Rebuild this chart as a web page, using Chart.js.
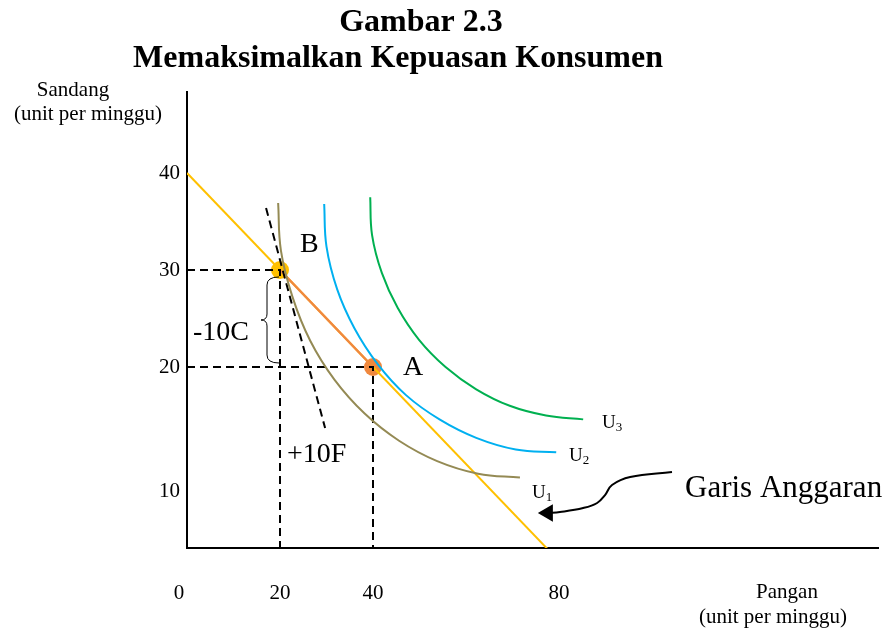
<!DOCTYPE html>
<html>
<head>
<meta charset="utf-8">
<script src="https://cdn.jsdelivr.net/npm/chart.js@4.4.1/dist/chart.umd.min.js"></script>
<style>
html, body { margin: 0; padding: 0; background: #fff; }
#wrap { width: 891px; height: 630px; }
</style>
</head>
<body>
<div id="wrap"><canvas id="chart" width="891" height="630"></canvas></div>
<script>
// --- DATA (Pangan on x, Sandang on y) ---
const xTicks = [0, 20, 40, 80];
const yTicks = [10, 20, 30, 40];

const budgetX = [0, 80];
const budgetY = [40, 0];

const pointNames = ['B', 'A'];
const pointX = [20, 40];
const pointY = [30, 20];

const tangentX = [17.0, 29.7];
const tangentY = [36.4, 13.7];

const u1X = [19.6, 20.2, 22.7, 26.5, 31.7, 38.2, 45.6, 53.8, 62.6, 71.6];
const u1Y = [36.9, 32.0, 27.2, 22.7, 18.7, 15.2, 12.4, 10.3, 9.0, 8.6];

const u2X = [29.5, 30.0, 32.3, 36.0, 41.0, 47.1, 54.3, 62.2, 70.7, 79.4];
const u2Y = [36.8, 32.4, 28.0, 24.0, 20.3, 17.1, 14.6, 12.7, 11.5, 11.2];

const u3X = [39.4, 39.8, 41.9, 45.3, 49.9, 55.6, 62.2, 69.4, 77.2, 85.2];
const u3Y = [37.5, 33.6, 29.7, 26.1, 22.8, 20.0, 17.7, 16.0, 15.0, 14.6];

const arrowX = [104.3, 95.3, 91.4, 89.9, 88.2, 85.2, 80.2, 77.6];
const arrowY = [9.18, 8.66, 7.84, 6.80, 5.98, 5.46, 5.05, 4.95];

// --- COLORS / FONTS ---
const SERIF = "'Liberation Serif', 'Times New Roman', serif";
const YELLOW = '#FFC000';
const ORANGE = '#F0883E';
const U1_COLOR = '#948A54';
const U2_COLOR = '#00B0F0';
const U3_COLOR = '#00B050';

function pts(xs, ys) { return xs.map((x, i) => ({ x, y: ys[i] })); }

function lineSet(xs, ys, color, extra) {
    return Object.assign({
        data: pts(xs, ys),
        showLine: true,
        borderColor: color,
        backgroundColor: color,
        borderWidth: 2,
        pointRadius: 0,
        tension: 0
    }, extra || {});
}

// --- TEXT / DECORATION PLUGIN ---
const decorations = {
    id: 'decorations',
    afterDraw(chart, args, o) {
        const ctx = chart.ctx;
        const xs = chart.scales.x, ys = chart.scales.y;
        ctx.save();
        ctx.fillStyle = '#000';

        // title
        ctx.textAlign = 'center';
        ctx.textBaseline = 'alphabetic';
        ctx.font = 'bold 32px ' + SERIF;
        ctx.fillText('Gambar 2.3', 421, 31);
        ctx.fillText('Memaksimalkan Kepuasan Konsumen', 398, 67);

        // axis names
        ctx.font = '21px ' + SERIF;
        ctx.fillText('Sandang', 73, 96);
        ctx.fillText('(unit per minggu)', 88, 120);
        ctx.fillText('Pangan', 787, 598);
        ctx.fillText('(unit per minggu)', 773, 623);

        // tick labels
        ctx.textBaseline = 'middle';
        xTicks.forEach(v => {
            ctx.fillText(String(v), xs.getPixelForValue(v) + (o.xNudge[v] || 0), o.xLabelY);
        });
        ctx.textAlign = 'right';
        yTicks.forEach(v => {
            ctx.fillText(String(v), o.yLabelX, ys.getPixelForValue(v) + (o.yNudge[v] || 0));
        });

        // point and change labels
        ctx.textAlign = 'left';
        ctx.textBaseline = 'alphabetic';
        ctx.font = '28px ' + SERIF;
        ctx.fillText(pointNames[0], 300, 252);
        ctx.fillText(pointNames[1], 403, 375);
        ctx.fillText('-10C', 193, 340);
        ctx.fillText('+10F', 287, 462);
        ctx.font = '31px ' + SERIF;
        ctx.fillText('Garis Anggaran', 685, 497);

        // indifference curve labels
        [['3', 602, 428], ['2', 569, 461], ['1', 532, 498]].forEach(([s, x, y]) => {
            ctx.font = '19px ' + SERIF;
            ctx.fillText('U', x, y);
            const w = ctx.measureText('U').width;
            ctx.font = '13px ' + SERIF;
            ctx.fillText(s, x + w, y + 3);
        });

        // brace for the change in Sandang (between B and A)
        const xe = xs.getPixelForValue(pointX[0]) - 1;
        const xm = xe - 12, xt = xe - 18;
        const top = ys.getPixelForValue(pointY[0]) + 7;
        const bot = ys.getPixelForValue(pointY[1]) - 4;
        const mid = (top + bot) / 2;
        ctx.strokeStyle = '#000';
        ctx.lineWidth = 1;
        ctx.beginPath();
        ctx.moveTo(xe, top);
        ctx.quadraticCurveTo(xm, top, xm, top + 8);
        ctx.lineTo(xm, mid - 6);
        ctx.quadraticCurveTo(xm, mid, xt, mid);
        ctx.quadraticCurveTo(xm, mid, xm, mid + 6);
        ctx.lineTo(xm, bot - 8);
        ctx.quadraticCurveTo(xm, bot, xe, bot);
        ctx.stroke();

        ctx.restore();
    }
};

const dashed = { borderColor: '#000', borderWidth: 2, borderDash: [8, 5] };
const smooth = { tension: 0.4 };

new Chart(document.getElementById('chart'), {
    type: 'scatter',
    data: {
        datasets: [
            lineSet(u1X, u1Y, U1_COLOR, smooth),
            lineSet(u2X, u2Y, U2_COLOR, smooth),
            lineSet(u3X, u3Y, U3_COLOR, smooth),
            lineSet(tangentX, tangentY, '#000', dashed),
            lineSet([0, pointX[0], pointX[0]], [pointY[0], pointY[0], 0], '#000', dashed),
            lineSet([0, pointX[1], pointX[1]], [pointY[1], pointY[1], 0], '#000', dashed),
            lineSet(arrowX, arrowY, '#000', { tension: 0.4 }),
            {
                data: [{ x: arrowX[arrowX.length - 1], y: arrowY[arrowY.length - 1] }],
                pointStyle: 'triangle', rotation: -90, pointRadius: 10,
                backgroundColor: '#000', borderColor: '#000', borderWidth: 0
            },
            lineSet(pointX, pointY, ORANGE, { borderWidth: 2.5 }),
            lineSet(budgetX, budgetY, YELLOW, { borderWidth: 2 }),
            {
                data: pts(pointX, pointY),
                pointRadius: 9,
                pointBorderWidth: 0,
                backgroundColor: [YELLOW, ORANGE]
            }
        ]
    },
    options: {
        responsive: false,
        animation: false,
        layout: { padding: { left: 179, right: 13, top: 92, bottom: 74 } },
        plugins: {
            legend: { display: false },
            tooltip: { enabled: false },
            decorations: {
                xLabelY: 593,
                yLabelX: 180,
                xNudge: { 0: -8 },
                yNudge: { 10: 27 }
            }
        },
        scales: {
            x: {
                type: 'linear', min: 0, max: 148.6,
                grid: { display: false },
                ticks: { display: false },
                border: { display: true, color: '#000', width: 2 }
            },
            y: {
                type: 'linear', min: 1.34, max: 48.35,
                grid: { display: false },
                ticks: { display: false },
                border: { display: true, color: '#000', width: 2 }
            }
        }
    },
    plugins: [decorations]
});
</script>
</body>
</html>
